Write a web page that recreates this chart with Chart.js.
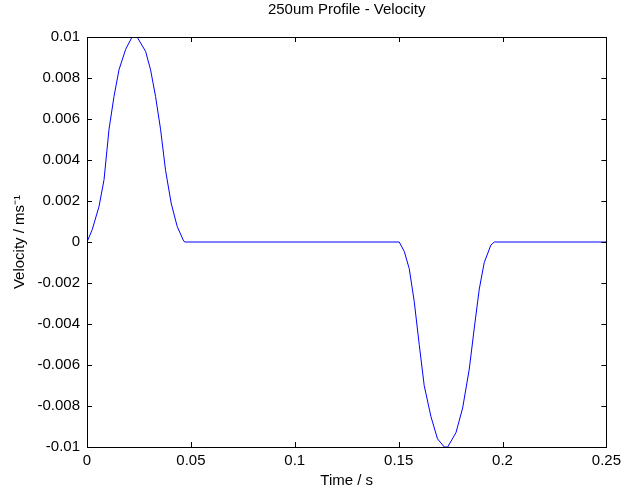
<!DOCTYPE html>
<html>
<head>
<meta charset="utf-8">
<script src="https://cdn.jsdelivr.net/npm/chart.js@4.4.1/dist/chart.umd.min.js"></script>
<style>
html,body{margin:0;padding:0;background:#fff;}
#wrap{width:626px;height:495px;position:relative;}
</style>
</head>
<body>
<div id="wrap"><canvas id="c" width="626" height="495"></canvas></div>
<script>
// Sampled time (s)
const timeValues = [0, 0.0025, 0.0058, 0.0082, 0.0106, 0.0130, 0.0154, 0.0186, 0.0217, 0.0241, 0.0282, 0.0306, 0.0330, 0.0354, 0.0378, 0.0405, 0.0434, 0.0463, 0.0470,
  0.1503, 0.1527, 0.1551, 0.1575, 0.1599, 0.1623, 0.1655, 0.1687, 0.1720, 0.1736, 0.1776, 0.1808, 0.1840, 0.1864, 0.1888, 0.1912, 0.1944, 0.1960, 0.25];
// Velocity (m/s)
const velocityValues = [0, 0.0006, 0.00174, 0.00304, 0.0055, 0.0071, 0.0084, 0.0094, 0.0100, 0.0100, 0.0093, 0.0084, 0.0071, 0.0055, 0.0035, 0.0019, 0.00076, 0.0001, 0,
  0, -0.00046, -0.0013, -0.0029, -0.0050, -0.0070, -0.0085, -0.0096, -0.0100, -0.0100, -0.0093, -0.0081, -0.0062, -0.0042, -0.0023, -0.0010, -0.00015, 0, 0];
const xTickLabels = ['0', '0.05', '0.1', '0.15', '0.2', '0.25'];
const yTickLabels = ['0.01', '0.008', '0.006', '0.004', '0.002', '0', '-0.002', '-0.004', '-0.006', '-0.008', '-0.01'];
const chartTitle = '250um Profile - Velocity';
const xTitle = 'Time / s';
const yTitle = 'Velocity / ms\u207B\u00B9';

const points = timeValues.map((t, i) => ({x: t, y: velocityValues[i]}));
const FONT = 'Arial, "Liberation Sans", Helvetica, sans-serif';
const FS = 15;

const boxTicks = {
  id: 'boxTicks',
  afterDraw(chart) {
    const {ctx, chartArea: a, scales: {x, y}} = chart;
    ctx.save();
    ctx.strokeStyle = '#000';
    ctx.lineWidth = 1;
    ctx.strokeRect(Math.round(a.left) + 0.5, Math.round(a.top) + 0.5, Math.round(a.right - a.left), Math.round(a.bottom - a.top));
    const L = 5;
    ctx.beginPath();
    x.ticks.forEach(tk => {
      const px = Math.round(x.getPixelForValue(tk.value)) + 0.5;
      ctx.moveTo(px, a.bottom); ctx.lineTo(px, a.bottom - L);
      ctx.moveTo(px, a.top); ctx.lineTo(px, a.top + L);
    });
    y.ticks.forEach(tk => {
      const py = Math.round(y.getPixelForValue(tk.value)) + 0.5;
      ctx.moveTo(a.left, py); ctx.lineTo(a.left + L, py);
      ctx.moveTo(a.right, py); ctx.lineTo(a.right - L, py);
    });
    ctx.stroke();
    ctx.restore();
  }
};

new Chart(document.getElementById('c'), {
  type: 'scatter',
  data: {
    datasets: [{
      data: points,
      showLine: true,
      borderColor: '#0000ff',
      borderWidth: 1,
      pointRadius: 0,
      tension: 0,
      fill: false
    }]
  },
  options: {
    responsive: false,
    animation: false,
    devicePixelRatio: 1,
    layout: {padding: {top: 0, right: 18, bottom: 0, left: 0}},
    plugins: {
      legend: {display: false},
      tooltip: {enabled: false},
      title: {display: false}
    },
    scales: {
      x: {
        type: 'linear',
        position: 'bottom',
        min: 0, max: 0.25,
        afterFit(s) { s.height = 48; },
        afterBuildTicks(s) { s.ticks = xTickLabels.map(v => ({value: parseFloat(v)})); },
        ticks: {
          color: '#000',
          font: {family: FONT, size: FS},
          padding: 5,
          maxRotation: 0,
          autoSkip: false,
          callback: (v, i) => xTickLabels[i]
        },
        grid: {display: false, drawTicks: false},
        border: {display: false},
        title: {display: true, text: xTitle, color: '#000', font: {family: FONT, size: FS}, padding: {top: 0, bottom: 5}}
      },
      top: {
        type: 'linear',
        position: 'top',
        min: 0, max: 0.25,
        afterFit(s) { s.height = 37; },
        ticks: {display: false},
        grid: {display: false, drawTicks: false},
        border: {display: false},
        title: {display: true, text: chartTitle, color: '#000', font: {family: FONT, size: FS}, padding: {top: 1, bottom: 0}}
      },
      y: {
        type: 'linear',
        min: -0.01, max: 0.01,
        afterFit(s) { s.width = 87; },
        afterBuildTicks(s) { s.ticks = yTickLabels.map(v => ({value: parseFloat(v)})); },
        ticks: {
          color: '#000',
          font: {family: FONT, size: FS},
          padding: 7,
          autoSkip: false,
          callback: function(v) {
            const idx = yTickLabels.findIndex(l => Math.abs(parseFloat(l) - v) < 1e-9);
            return idx >= 0 ? yTickLabels[idx] : '';
          }
        },
        grid: {display: false, drawTicks: false},
        border: {display: false},
        title: {display: true, text: yTitle, color: '#000', font: {family: FONT, size: FS}, padding: {top: 11, bottom: 0}}
      }
    }
  },
  plugins: [boxTicks]
});
</script>
</body>
</html>
